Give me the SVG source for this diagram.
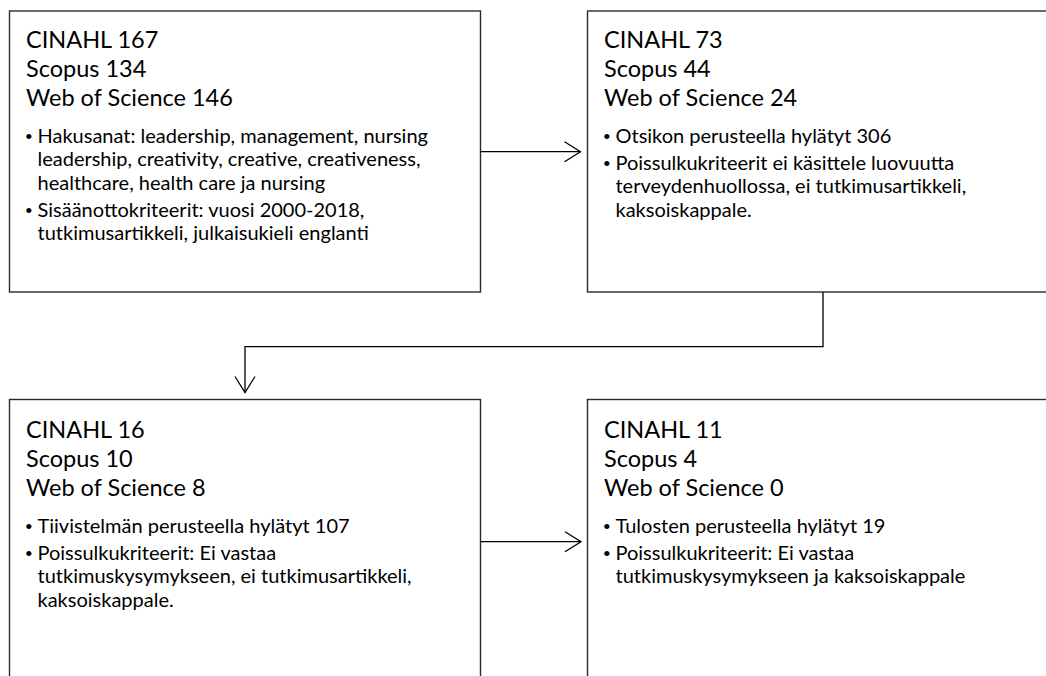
<svg xmlns="http://www.w3.org/2000/svg" width="1046" height="676" viewBox="0 0 1046 676">
<style>
.box{fill:#fff;stroke:#2b2b2b;stroke-width:1.4}
.h{font-family:Lato,"Liberation Sans",sans-serif;font-size:23.5px;fill:#000}
.b{font-family:Lato,"Liberation Sans",sans-serif;font-size:20px;fill:#000}
.dot{font-family:"Liberation Sans",sans-serif;font-size:19px;fill:#000}
.con{fill:none;stroke:#000;stroke-width:1.3}
</style>
<defs>
<marker id="arr" markerUnits="userSpaceOnUse" markerWidth="20" markerHeight="24" refX="17" refY="11" orient="auto" viewBox="0 0 20 22">
<path d="M1,1 L17,11 L1,21" fill="none" stroke="#000" stroke-width="1.3"/>
</marker>
</defs>
<rect width="1046" height="676" fill="#fff"/>
<g id="node1">
<rect class="box" x="9.5" y="11" width="471" height="281"/>
<text class="h" x="26" y="48">CINAHL 167</text>
<text class="h" x="26" y="77">Scopus 134</text>
<text class="h" x="26" y="106">Web of Science 146</text>
<text class="dot" x="25.5" y="142.5">•</text>
<text class="b" x="37.5" y="142.5">Hakusanat: leadership, management, nursing</text>
<text class="b" x="37.5" y="166">leadership, creativity, creative, creativeness,</text>
<text class="b" x="37.5" y="189.5">healthcare, health care ja nursing</text>
<text class="dot" x="25.5" y="216.5">•</text>
<text class="b" x="37.5" y="216.5">Sisäänottokriteerit: vuosi 2000-2018,</text>
<text class="b" x="37.5" y="240">tutkimusartikkeli, julkaisukieli englanti</text>
</g>
<g id="node2">
<rect class="box" x="587.5" y="11" width="480" height="281"/>
<text class="h" x="604" y="48">CINAHL 73</text>
<text class="h" x="604" y="77">Scopus 44</text>
<text class="h" x="604" y="106">Web of Science 24</text>
<text class="dot" x="603.5" y="142.5">•</text>
<text class="b" x="615.5" y="142.5">Otsikon perusteella hylätyt 306</text>
<text class="dot" x="603.5" y="169.5">•</text>
<text class="b" x="615.5" y="169.5">Poissulkukriteerit ei käsittele luovuutta</text>
<text class="b" x="615.5" y="193">terveydenhuollossa, ei tutkimusartikkeli,</text>
<text class="b" x="615.5" y="216.5">kaksoiskappale.</text>
</g>
<g id="node3">
<rect class="box" x="9.5" y="399.5" width="471" height="300"/>
<text class="h" x="26" y="438">CINAHL 16</text>
<text class="h" x="26" y="467">Scopus 10</text>
<text class="h" x="26" y="496">Web of Science 8</text>
<text class="dot" x="25.5" y="532.5">•</text>
<text class="b" x="37.5" y="532.5">Tiivistelmän perusteella hylätyt 107</text>
<text class="dot" x="25.5" y="559.5">•</text>
<text class="b" x="37.5" y="559.5">Poissulkukriteerit: Ei vastaa</text>
<text class="b" x="37.5" y="583">tutkimuskysymykseen, ei tutkimusartikkeli,</text>
<text class="b" x="37.5" y="606.5">kaksoiskappale.</text>
</g>
<g id="node4">
<rect class="box" x="587.5" y="399.5" width="480" height="300"/>
<text class="h" x="604" y="438">CINAHL 11</text>
<text class="h" x="604" y="467">Scopus 4</text>
<text class="h" x="604" y="496">Web of Science 0</text>
<text class="dot" x="603.5" y="532.5">•</text>
<text class="b" x="615.5" y="532.5">Tulosten perusteella hylätyt 19</text>
<text class="dot" x="603.5" y="559.5">•</text>
<text class="b" x="615.5" y="559.5">Poissulkukriteerit: Ei vastaa</text>
<text class="b" x="615.5" y="583">tutkimuskysymykseen ja kaksoiskappale</text>
</g>
<g id="connectors">
<path class="con" d="M480.5,151.7 H580.5" marker-end="url(#arr)"/>
<path class="con" d="M823,292 V346.7 H245 V392.5" marker-end="url(#arr)"/>
<path class="con" d="M480.5,541.7 H581" marker-end="url(#arr)"/>
</g>
</svg>
